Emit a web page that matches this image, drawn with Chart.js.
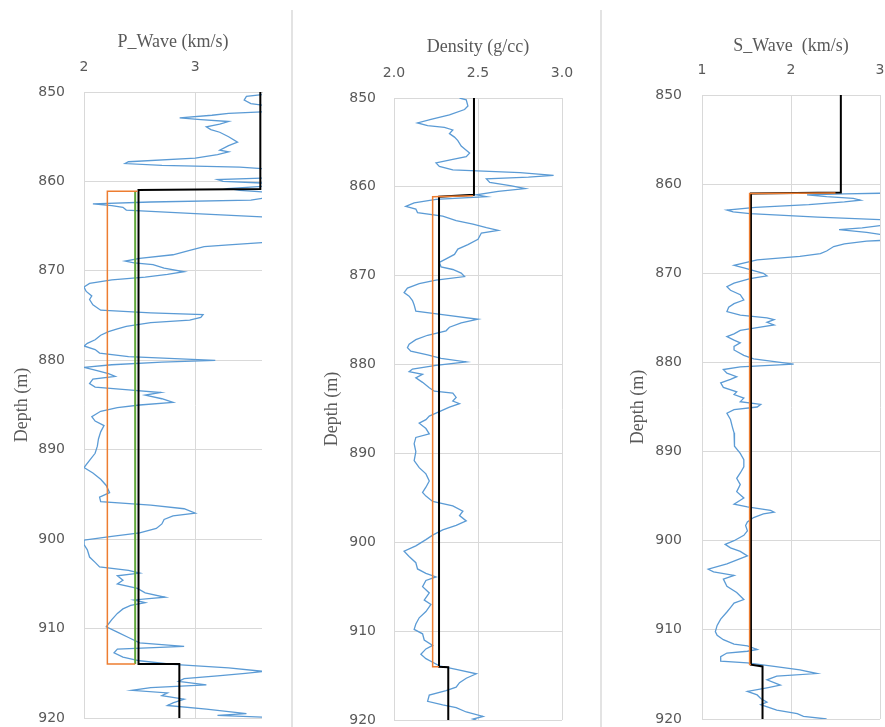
<!DOCTYPE html>
<html>
<head>
<meta charset="utf-8">
<script src="https://cdn.jsdelivr.net/npm/chart.js@4.4.1/dist/chart.umd.min.js"></script>
<style>
  body { margin: 0; background: #fff; width: 885px; height: 727px; overflow: hidden; position: relative; }
  canvas { position: absolute; top: 0; }
  .sep { position: absolute; top: 10px; width: 2px; height: 717px; background: #e3e3e3; }
</style>
</head>
<body>
<div class="sep" style="left:291px"></div>
<div class="sep" style="left:600px"></div>
<canvas id="pwave" style="left:0px" width="290" height="727"></canvas>
<canvas id="dens" style="left:296px" width="296" height="727"></canvas>
<canvas id="swave" style="left:606px" width="279" height="727"></canvas>
<script>
// depth axis
var depthTicks = [850, 860, 870, 880, 890, 900, 910, 920];

// ---- P wave log (km/s) ----
var pDepth = [
  850.0,850.3,850.5,850.9,851.3,851.5,852.2,852.4,852.6,852.9,
  853.1,853.3,853.6,853.9,854.2,854.5,855.0,855.6,856.0,856.5,
  856.7,857.0,857.4,857.8,858.0,858.2,858.4,858.6,859.6,859.8,
  860.0,860.2,860.5,860.8,861.0,861.2,861.8,862.1,862.3,862.5,
  862.7,862.9,863.2,863.6,864.0,866.8,867.1,867.3,867.7,868.2,
  868.6,868.9,869.1,869.3,869.7,870.1,870.4,870.7,871.0,871.4,
  871.8,872.3,872.8,873.2,873.8,874.4,874.7,874.9,875.2,875.5,
  875.8,876.2,876.5,876.8,877.2,877.7,878.1,878.4,878.8,879.2,
  879.6,880.0,880.2,880.5,880.8,881.1,881.5,881.8,882.1,882.6,
  883.0,883.3,883.6,883.9,884.3,884.7,885.0,885.3,885.7,886.3,
  886.8,887.3,888.0,888.8,889.6,890.4,891.2,892.0,892.6,893.3,
  894.0,894.8,895.3,895.8,896.2,896.6,897.1,897.4,897.8,898.3,
  898.8,899.3,899.7,900.1,900.6,901.2,902.0,902.6,903.1,903.5,
  903.8,904.1,904.6,905.0,905.5,906.0,906.5,906.8,907.1,907.4,
  907.8,908.3,909.0,909.8,910.4,911.0,911.6,912.0,912.3,912.7,
  913.2,913.6,914.0,914.4,914.8,915.0,915.3,915.6,915.9,916.3,
  916.6,916.9,917.2,917.5,917.9,918.3,918.6,919.0,919.5,919.7,
  919.9,920.0
];
var pVel = [
  3.62,3.60,3.46,3.44,3.50,3.62,3.62,3.30,3.15,2.86,
  3.05,3.30,3.22,3.10,3.14,3.22,3.30,3.38,3.30,3.22,
  3.30,3.20,3.00,2.40,2.37,2.70,3.40,3.65,3.65,3.20,
  3.25,3.65,3.65,3.30,3.40,3.65,3.65,3.50,2.60,2.08,
  2.25,2.35,2.38,3.00,3.65,3.65,3.30,3.08,2.95,2.80,
  2.50,2.37,2.45,2.62,2.72,2.90,2.75,2.55,2.25,2.05,
  2.00,2.02,2.07,2.05,2.08,2.15,2.60,3.07,3.05,2.95,
  2.60,2.38,2.30,2.22,2.15,2.10,2.03,2.00,2.10,2.14,
  2.40,3.18,2.70,2.25,2.00,2.10,2.22,2.28,2.08,2.05,
  2.10,2.40,2.69,2.55,2.70,2.80,2.50,2.30,2.15,2.07,
  2.10,2.18,2.15,2.13,2.12,2.10,2.05,2.00,2.08,2.15,
  2.20,2.23,2.14,2.15,2.60,2.90,3.00,2.80,2.72,2.70,
  2.65,2.50,2.25,2.00,2.00,2.03,2.05,2.10,2.14,2.40,
  2.50,2.30,2.35,2.30,2.48,2.55,2.73,2.45,2.55,2.42,
  2.35,2.30,2.25,2.20,2.30,2.40,2.50,2.90,2.30,2.27,
  2.35,2.50,2.80,3.30,3.62,3.45,3.20,2.90,2.85,3.10,
  2.60,2.43,2.75,2.70,2.90,2.80,2.75,3.10,3.46,3.20,
  3.60,3.62
];
// blocky models
var pModelDepth = [850, 860.85, 860.95, 913.95, 913.95, 920];
var pModelVel   = [3.585, 3.585, 2.49, 2.49, 2.857, 2.857];
var pLowDepth   = [861.1, 861.1, 913.95, 913.95];
var pLowVel     = [2.48, 2.21, 2.21, 2.46];
var pMidDepth   = [861.1, 913.95];
var pMidVel     = [2.46, 2.46];
var pTicks = [2, 3];

// ---- Density log (g/cc) ----
var rhoDepth = [
  850.0,850.2,850.9,851.3,851.9,852.4,852.8,853.1,853.3,853.6,
  854.0,854.4,854.8,855.4,856.2,856.6,856.9,857.3,857.7,858.1,
  858.4,858.7,858.9,859.1,859.5,859.9,860.2,860.5,860.9,861.1,
  861.4,861.8,862.2,862.5,862.9,863.3,863.8,864.2,864.6,864.9,
  865.2,865.9,866.5,867.0,867.6,868.1,868.5,869.0,869.3,869.7,
  870.1,870.5,870.9,871.4,871.9,872.3,872.8,873.3,874.0,874.4,
  874.9,875.3,875.8,876.2,876.7,877.2,877.7,878.1,878.5,878.9,
  879.3,879.7,880.1,880.5,880.8,881.1,881.5,882.0,882.6,883.0,
  883.2,883.7,884.1,884.4,884.8,885.3,885.8,886.2,886.6,887.2,
  887.8,888.2,888.9,889.8,890.8,891.6,892.3,893.1,893.8,894.4,
  894.8,895.4,895.9,896.5,897.0,897.6,898.1,898.6,899.2,899.7,
  900.4,901.0,901.6,902.3,903.0,903.5,903.9,904.3,905.0,905.7,
  906.5,907.0,907.8,908.5,909.2,909.8,910.3,911.0,911.6,912.0,
  912.6,913.1,913.5,913.9,914.3,914.8,915.3,915.8,916.3,916.7,
  917.2,917.9,918.3,918.6,919.1,919.6,919.9,920.0
];
var rhoVal = [
  2.39,2.43,2.44,2.42,2.33,2.22,2.14,2.20,2.30,2.35,
  2.33,2.36,2.38,2.40,2.45,2.43,2.35,2.25,2.27,2.35,
  2.75,2.95,2.80,2.55,2.57,2.70,2.78,2.62,2.49,2.55,
  2.25,2.12,2.07,2.13,2.14,2.29,2.37,2.47,2.55,2.62,
  2.52,2.50,2.44,2.38,2.36,2.31,2.27,2.28,2.35,2.40,
  2.42,2.25,2.15,2.08,2.06,2.09,2.11,2.12,2.13,2.30,
  2.50,2.40,2.33,2.31,2.20,2.13,2.09,2.08,2.10,2.20,
  2.28,2.43,2.25,2.11,2.09,2.17,2.13,2.17,2.21,2.24,
  2.35,2.37,2.35,2.39,2.33,2.27,2.21,2.19,2.15,2.19,
  2.21,2.13,2.12,2.13,2.12,2.15,2.19,2.21,2.19,2.17,
  2.19,2.23,2.35,2.41,2.39,2.43,2.37,2.29,2.23,2.19,
  2.13,2.06,2.09,2.13,2.14,2.19,2.25,2.19,2.17,2.21,
  2.18,2.22,2.19,2.15,2.13,2.12,2.17,2.18,2.23,2.19,
  2.16,2.19,2.23,2.27,2.37,2.49,2.43,2.39,2.37,2.31,
  2.21,2.20,2.29,2.37,2.43,2.53,2.47,2.49
];
var rhoModelDepth = [850, 860.9, 861.1, 914.0, 914.05, 920];
var rhoModelVal   = [2.476, 2.476, 2.268, 2.268, 2.323, 2.323];
var rhoLowDepth   = [861.0, 861.1, 914.0, 914.0];
var rhoLowVal     = [2.47, 2.23, 2.23, 2.268];
var rhoTicks = [2.0, 2.5, 3.0];

// ---- S wave log (km/s) ----
var sDepth = [
  861.0,861.1,861.2,861.4,861.6,861.8,862.0,862.3,862.6,862.9,
  863.1,863.3,863.7,864.0,864.6,864.9,865.1,865.4,865.7,866.3,
  866.4,866.7,867.0,867.5,867.8,868.1,868.5,869.1,869.4,869.7,
  870.0,870.3,870.6,871.1,871.5,871.9,872.4,873.0,873.4,873.8,
  874.3,874.7,875.0,875.2,875.5,875.8,876.1,876.4,876.8,877.1,
  877.5,877.8,878.2,878.6,879.2,879.6,880.2,880.5,880.8,881.2,
  881.6,881.9,882.3,882.8,883.3,883.6,884.0,884.4,884.7,885.0,
  885.3,885.7,886.4,887.2,887.9,888.6,889.4,890.2,890.9,891.7,
  892.4,893.0,893.7,894.5,895.2,895.9,896.2,896.6,896.8,897.0,
  897.4,897.9,898.3,898.9,899.4,900.0,900.4,900.8,901.2,901.7,
  902.0,902.6,903.2,903.5,903.9,904.3,905.1,905.8,906.6,907.0,
  907.5,908.0,908.8,909.5,910.2,910.6,911.1,911.6,911.8,912.2,
  912.4,912.6,913.0,913.5,913.7,914.1,914.5,914.9,915.2,915.6,
  916.2,916.5,916.9,917.3,917.7,918.1,918.4,919.0,919.4,919.7,
  920.0
];
var sVel = [
  3.10,2.60,2.18,2.40,2.70,2.78,2.60,2.20,1.60,1.28,
  1.35,1.54,2.30,3.05,3.05,2.80,2.54,2.85,3.05,3.05,
  2.85,2.60,2.48,2.40,2.33,2.10,1.62,1.36,1.47,1.58,
  1.69,1.73,1.54,1.36,1.28,1.32,1.43,1.47,1.36,1.30,
  1.28,1.43,1.73,1.81,1.73,1.81,1.62,1.43,1.36,1.28,
  1.36,1.43,1.36,1.36,1.47,1.58,2.03,1.43,1.24,1.28,
  1.39,1.32,1.21,1.24,1.39,1.36,1.47,1.43,1.66,1.62,
  1.36,1.28,1.32,1.34,1.36,1.36,1.37,1.43,1.47,1.47,
  1.43,1.39,1.43,1.39,1.47,1.36,1.51,1.77,1.81,1.69,
  1.58,1.51,1.49,1.51,1.47,1.36,1.26,1.32,1.43,1.51,
  1.43,1.28,1.07,1.13,1.36,1.24,1.28,1.39,1.47,1.36,
  1.32,1.28,1.21,1.17,1.15,1.17,1.24,1.36,1.51,1.62,
  1.51,1.28,1.21,1.21,1.51,1.81,2.10,2.29,1.84,1.73,
  1.88,1.73,1.51,1.62,1.66,1.73,1.66,1.84,2.07,2.14,
  2.40
];
var sModelDepth = [850, 860.95, 861.05, 913.9, 914.1, 920];
var sModelVel   = [2.56, 2.56, 1.55, 1.55, 1.68, 1.68];
var sLowDepth   = [861.0, 861.05, 913.9, 913.9];
var sLowVel     = [2.5, 1.535, 1.535, 1.55];
var sTicks = [1, 2, 3];

var BLUE = '#5b9bd5', ORANGE = '#ed7d31', GREEN = '#5fa83a', BLACK = '#000000';
var GRID = '#d9d9d9', TEXT = '#595959';

function pts(xs, ys) {
  return ys.map(function (d, i) { return { x: xs[i], y: d }; });
}
function trace(xs, ys, color, width) {
  return { data: pts(xs, ys), showLine: true, borderColor: color, backgroundColor: color,
           borderWidth: width, pointRadius: 0, fill: false, clip: 0 };
}

function logPanel(id, o) {
  return new Chart(document.getElementById(id), {
    type: 'scatter',
    data: { datasets: o.datasets },
    options: {
      responsive: false,
      animation: false,
      layout: { padding: { left: 0, right: o.padRight, top: 0, bottom: o.padBottom } },
      plugins: { legend: { display: false }, tooltip: { enabled: false } },
      elements: { line: { tension: 0 } },
      scales: {
        x: {
          type: 'linear', position: 'top', min: o.xMin, max: o.xMax,
          afterBuildTicks: function (s) { s.ticks = o.xTicks.map(function (v) { return { value: v }; }); },
          // fixed axis band, no label overflow padding
          afterFit: function (s) { s.height = o.top; s.paddingLeft = 0; s.paddingRight = 0; },
          grid: { color: GRID, drawTicks: false },
          border: { color: GRID },
          ticks: {
            padding: o.xTickPad, color: TEXT,
            font: { family: 'DejaVu Sans', size: 14, lineHeight: 1 },
            callback: function (v) { return o.fmt(v); }
          },
          title: {
            display: true, text: o.title, color: TEXT,
            font: { family: 'Liberation Serif', size: 18 },
            padding: { top: o.titlePad, bottom: 0 }
          }
        },
        y: {
          type: 'linear', reverse: true, min: 850, max: 920,
          afterBuildTicks: function (s) { s.ticks = depthTicks.map(function (v) { return { value: v }; }); },
          afterFit: function (s) { s.width = o.left; s.paddingTop = 0; s.paddingBottom = 0; },
          grid: { color: GRID, drawTicks: false },
          border: { color: GRID },
          ticks: {
            padding: o.yTickPad, color: TEXT,
            font: { family: 'DejaVu Sans', size: 14, lineHeight: 1 }
          },
          title: {
            display: true, text: 'Depth (m)', color: TEXT,
            font: { family: 'Liberation Serif', size: 18 },
            padding: { top: o.yTitlePad, bottom: 0 }
          }
        }
      }
    }
  });
}

logPanel('pwave', {
  title: 'P_Wave (km/s)', xMin: 2, xMax: 3.6, xTicks: pTicks,
  fmt: function (v) { return String(v); },
  left: 84, top: 92, padRight: 28, padBottom: 9,
  xTickPad: 18, titlePad: 31, yTickPad: 19, yTitlePad: 11,
  datasets: [
    trace(pLowVel, pLowDepth, ORANGE, 1.5),
    trace(pMidVel, pMidDepth, GREEN, 2),
    trace(pModelVel, pModelDepth, BLACK, 2),
    trace(pVel, pDepth, BLUE, 1.3)
  ]
});

logPanel('dens', {
  title: 'Density (g/cc)', xMin: 2, xMax: 3, xTicks: rhoTicks,
  fmt: function (v) { return v.toFixed(1); },
  left: 98, top: 98, padRight: 30, padBottom: 7,
  xTickPad: 18, titlePad: 36, yTickPad: 18, yTitlePad: 25,
  datasets: [
    trace(rhoLowVal, rhoLowDepth, ORANGE, 1.5),
    trace(rhoModelVal, rhoModelDepth, BLACK, 2),
    trace(rhoVal, rhoDepth, BLUE, 1.3)
  ]
});

logPanel('swave', {
  title: 'S_Wave  (km/s)', xMin: 1, xMax: 3, xTicks: sTicks,
  fmt: function (v) { return String(v); },
  left: 96, top: 95, padRight: 5, padBottom: 8,
  xTickPad: 18, titlePad: 35, yTickPad: 20, yTitlePad: 21,
  datasets: [
    trace(sLowVel, sLowDepth, ORANGE, 1.5),
    trace(sModelVel, sModelDepth, BLACK, 2),
    trace(sVel, sDepth, BLUE, 1.3)
  ]
});
</script>
</body>
</html>
